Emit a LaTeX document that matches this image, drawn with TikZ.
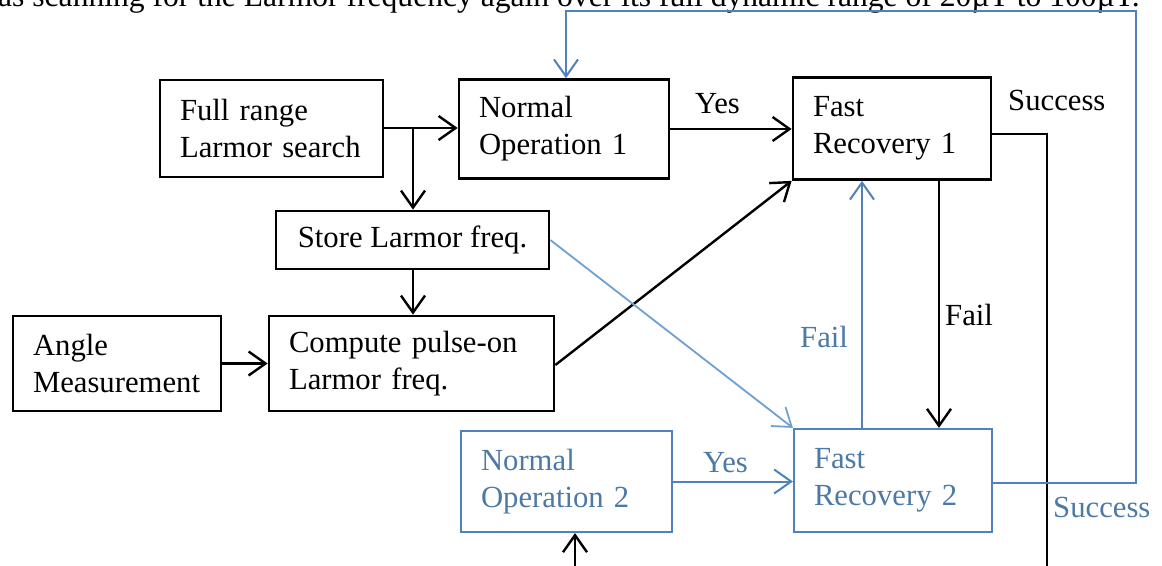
\documentclass[tikz,border=0pt]{standalone}
\usepackage{fontspec}
\setmainfont{Liberation Serif}
\usetikzlibrary{arrows.meta}
\definecolor{flowblue}{HTML}{4F81BD}
\definecolor{flowtext}{HTML}{4C79A6}
\definecolor{flowlight}{HTML}{6FA0D2}
\begin{document}
\begin{tikzpicture}[x=1pt,y=-1pt,
  every node/.style={font=\fontsize{30.7}{37}\selectfont},
  box/.style={draw, line width=2.7pt, inner xsep=20pt, inner ysep=0pt, align=left},
  bluebox/.style={box, draw=flowblue, line width=2.2pt, text=flowtext},
  tip/.style={-{Straight Barb[length=17pt,width=24pt]}},
  flow/.style={tip, line width=2.4pt},
  blueflow/.style={tip, line width=2pt, flowblue},
  lbl/.style={anchor=base west, inner sep=0pt}]
  \useasboundingbox (0,0) rectangle (1162,565);
  \clip (0,0) rectangle (1162,565);
  \fill[white] (0,0) rectangle (1162,565);

  % line of body text running above the figure
  \node[lbl, font=\fontsize{31.6}{37}\selectfont] (caption) at (-2,6) {as scanning for the Larmor frequency again over its full dynamic range of 20µT to 100µT.};

  % process boxes
  \node[box, text width=183pt, minimum height=97pt] (full) at (271.5,128.5) {Full range\\Larmor search};
  \node[box, text width=170pt, minimum height=99pt] (no1) at (564,129) {Normal\\Operation 1};
  \node[box, text width=158pt, minimum height=102pt] (fr1) at (892,128.5) {Fast\\Recovery 1};
  \node[box, align=center, minimum width=273pt, minimum height=58pt] (store) at (412.5,240) {Store Larmor freq.};
  \node[box, text width=168pt, minimum height=95pt] (angle) at (117,363.5) {Angle\\Measurement};
  \node[box, text width=245pt, minimum height=95pt] (comp) at (411.5,363.5) {Compute pulse-on\\Larmor freq.};
  \node[bluebox, text width=171pt, minimum height=101pt] (no2) at (566.5,481.5) {Normal\\Operation 2};
  \node[bluebox, text width=158pt, minimum height=103pt] (fr2) at (893,480.5) {Fast\\Recovery 2};

  % free ends and corners of connectors
  \coordinate (split) at (413,128);
  \coordinate (succA) at (1047,134);
  \coordinate (succB) at (1047,570);
  \coordinate (loopA) at (1136,483);
  \coordinate (loopB) at (1136,11);
  \coordinate (loopC) at (566,11);
  \coordinate (upin) at (575,570);

  % black connectors
  \draw[flow] (full.east |- split) -- (no1.west |- split);
  \draw[flow] (split) -- (store.north -| split);
  \draw[flow] (store.south -| split) -- (comp.north -| split);
  \draw[flow] (angle.east) -- (comp.west);
  \draw[flow] (no1.east) -- (fr1.west |- no1.east);
  \draw[flow] ([yshift=-1.5pt]comp.east) -- (fr1.south west);
  \draw[flow] (fr1.south -| 939,0) -- (fr2.north -| 939,0);
  \draw[line width=2.4pt] (fr1.east |- succA) -- (succA) -- (succB);
  \draw[flow] (upin) -- (no2.south -| upin);

  % blue connectors
  \draw[blueflow] (no2.east) -- (fr2.west |- no2.east);
  \draw[blueflow] (fr2.north -| 862,0) -- (fr1.south -| 862,0);
  \draw[tip, line width=1.8pt, flowlight] (store.east) -- (fr2.north west);
  \draw[blueflow] (fr2.east |- loopA) -- (loopA) -- (loopB) -- (loopC) -- (no1.north -| loopC);

  % connector labels
  \node[lbl] (yes1) at (695,113) {Yes};
  \node[lbl, text=flowtext] (yes2) at (703,472) {Yes};
  \node[lbl] (succ1) at (1008,110) {Success};
  \node[lbl, text=flowtext] (succ2) at (1053,517) {Success};
  \node[lbl] (fail1) at (945,325) {Fail};
  \node[lbl, text=flowtext] (fail2) at (800,347) {Fail};
\end{tikzpicture}
\end{document}
